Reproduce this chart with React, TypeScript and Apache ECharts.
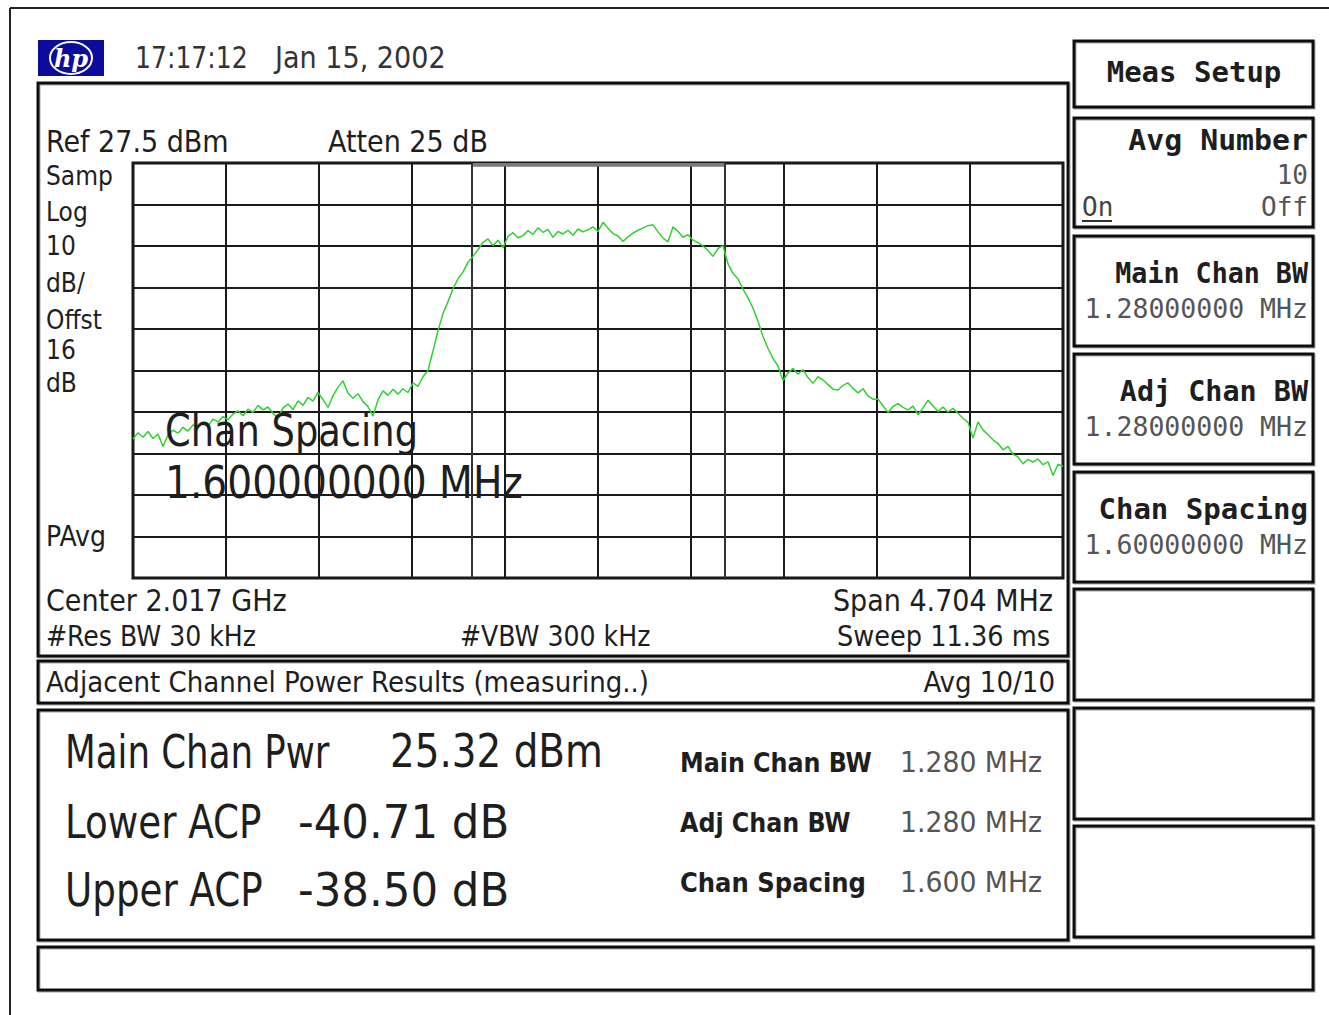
import React, { useEffect, useRef } from "react";
import * as echarts from "echarts";

// ---- instrument settings ----
const REF_LEVEL_DBM = 27.5;
const DB_PER_DIV = 10;
const DIVISIONS = 10;
const SPAN_KHZ = 4704;
const MAIN_CHAN_BW_KHZ = 1280;

// ---- trace: 187 evenly spaced sweep points across the span, dBm ----
const TRACE_DBM = [
  -39.0, -37.5, -38.6, -37.2, -38.9, -37.8, -40.8, -38.0, -36.9, -37.6,
  -36.2, -37.1, -35.6, -36.4, -35.0, -35.9, -34.2, -34.9, -33.6, -34.4,
  -33.0, -32.2, -33.4, -31.8, -32.6, -30.9, -32.0, -31.3, -32.8, -34.1,
  -31.5, -30.6, -31.9, -29.8, -30.9, -29.0, -29.9, -27.8, -29.5, -31.4,
  -28.6, -26.5, -25.0, -28.0, -29.2, -28.1, -30.0, -31.2, -33.5, -29.6,
  -27.4, -28.5, -27.0, -28.2, -26.9, -27.8, -25.5, -26.3, -24.0, -22.5,
  -17.8, -12.9, -8.8, -5.9, -2.8, -0.4, 1.2, 3.6, 5.0, 6.6,
  8.4, 9.2, 7.6, 8.9, 7.1, 9.8, 10.7, 9.5, 10.0, 11.2,
  10.3, 11.9, 10.8, 11.5, 9.6, 11.0, 10.4, 11.3, 10.1, 11.6,
  10.9, 11.4, 12.1, 11.0, 13.2, 11.8, 10.5, 9.9, 8.6, 9.7,
  10.6, 11.3, 11.8, 12.4, 12.6, 10.9, 9.4, 8.5, 12.1, 11.0,
  9.6, 10.2, 8.9, 8.3, 7.5, 6.4, 5.0, 6.9, 7.6, 3.2,
  0.9, -0.4, -2.9, -5.0, -7.5, -10.6, -14.3, -17.2, -19.6, -21.4,
  -24.9, -23.1, -22.0, -23.4, -22.3, -24.2, -25.6, -24.0, -24.8, -25.9,
  -27.0, -27.2, -26.1, -25.5, -26.8, -27.9, -26.9, -28.6, -29.4, -29.4,
  -31.0, -32.6, -31.2, -30.5, -31.4, -32.0, -31.1, -33.1, -31.5, -29.7,
  -31.0, -32.4, -31.3, -32.5, -31.6, -32.8, -34.0, -35.0, -38.8, -34.9,
  -36.8, -38.0, -39.2, -40.1, -41.6, -40.8, -42.7, -43.3, -45.0, -43.9,
  -44.6, -43.8, -45.2, -44.5, -47.8, -45.1, -45.6,
];

// ---- screen texts ----
const TIME_TEXT = "17:17:12";
const DATE_TEXT = "Jan 15, 2002";
const LEFT_LABELS = ["Samp", "Log", "10", "dB/", "Offst", "16", "dB"];
const RESULT_LABELS = ["Main Chan Pwr", "Lower ACP", "Upper ACP"];
const RESULT_VALUES = ["25.32 dBm", "-40.71 dB", "-38.50 dB"];
const SETUP_LABELS = ["Main Chan BW", "Adj Chan BW", "Chan Spacing"];
const SETUP_VALUES = ["1.280 MHz", "1.280 MHz", "1.600 MHz"];
const SOFTKEY_LABELS = ["Main Chan BW", "Adj Chan BW", "Chan Spacing"];
const SOFTKEY_VALUES = ["1.28000000 MHz", "1.28000000 MHz", "1.60000000 MHz"];

const NARROW = '"Liberation Sans Narrow", "DejaVu Sans Condensed", "Open Sans", "Liberation Sans", sans-serif';
const MONO = '"DejaVu Sans Mono", "Liberation Mono", monospace';
const INK = "#1e1e1e";

function txt(text: string, x: number, y: number, size: number, opts: any = {}) {
  return {
    type: "text",
    x,
    y,
    z: 100,
    silent: true,
    scaleX: opts.scaleX ?? 1,
    style: {
      text,
      font: `${opts.weight || "normal"} ${size}px ${opts.family || NARROW}`,
      fill: opts.fill || INK,
      textAlign: opts.align || "left",
      textVerticalAlign: "middle",
      align: opts.align || "left",
      verticalAlign: "middle",
    },
  };
}

function box(x: number, y: number, w: number, h: number, lw = 3) {
  return {
    type: "rect",
    z: 90,
    silent: true,
    shape: { x, y, width: w, height: h },
    style: { fill: "none", stroke: "#111", lineWidth: lw, shadowColor: "rgba(0,0,0,0.35)", shadowOffsetX: 1, shadowOffsetY: 1 },
  };
}

export default function App() {
  const ref = useRef<HTMLDivElement>(null);

  useEffect(() => {
    if (!ref.current) return;
    const chart = echarts.init(ref.current, undefined, { renderer: "svg" });
    const n = TRACE_DBM.length;
    const half = SPAN_KHZ / 2;
    const data = TRACE_DBM.map((v, i) => [-half + (i * SPAN_KHZ) / (n - 1), v - REF_LEVEL_DBM]);
    const chHalf = MAIN_CHAN_BW_KHZ / 2;

    const graphics: any[] = [];
    // outer frame
    graphics.push({ type: "line", z: 90, shape: { x1: 10, y1: 8, x2: 1329, y2: 8 }, style: { stroke: "#222", lineWidth: 2 } });
    graphics.push({ type: "line", z: 90, shape: { x1: 10, y1: 8, x2: 10, y2: 1015 }, style: { stroke: "#222", lineWidth: 2 } });
    // hp logo
    graphics.push({ type: "rect", z: 90, shape: { x: 38, y: 40, width: 66, height: 36 }, style: { fill: "#0b0b9c" } });
    graphics.push({ type: "ellipse", z: 95, shape: { cx: 71, cy: 58, rx: 21, ry: 16 }, style: { fill: "none", stroke: "#fff", lineWidth: 2 } });
    graphics.push(txt("hp", 71, 58, 24, { align: "center", fill: "#fff", weight: "italic bold", family: '"DejaVu Serif", serif' }));
    // date/time
    graphics.push(txt(TIME_TEXT, 135, 57, 31, { scaleX: 0.9, fill: "#333" }));
    graphics.push(txt(DATE_TEXT, 275, 57, 31, { scaleX: 0.97, fill: "#333" }));
    // main display frame
    graphics.push(box(38, 83, 1030, 573));
    graphics.push(txt("Ref 27.5 dBm", 46, 141, 30));
    graphics.push(txt("Atten 25 dB", 328, 141, 30));
    const ly = [176, 212, 246, 283, 320, 350, 383];
    LEFT_LABELS.forEach((l, i) => graphics.push(txt(l, 46, ly[i], 26)));
    graphics.push(txt("PAvg", 46, 536, 28));
    graphics.push(txt("Center 2.017 GHz", 46, 600, 30));
    graphics.push(txt("Span 4.704 MHz", 1053, 600, 30, { align: "right" }));
    graphics.push(txt("#Res BW 30 kHz", 46, 636, 28));
    graphics.push(txt("#VBW 300 kHz", 460, 636, 28));
    graphics.push(txt("Sweep 11.36 ms", 1050, 636, 28.5, { align: "right" }));
    // overlay in plot
    graphics.push(txt("Chan Spacing", 165, 431, 44, { scaleX: 0.93 }));
    graphics.push(txt("1.600000000 MHz", 165, 482, 44, { scaleX: 0.99 }));
    // results header
    graphics.push(box(38, 661, 1030, 42));
    graphics.push(txt("Adjacent Channel Power Results (measuring..)", 46, 682, 29));
    graphics.push(txt("Avg 10/10", 1055, 682, 29, { align: "right" }));
    // results box
    graphics.push(box(38, 710, 1030, 230));
    const ry = [752, 822, 890];
    RESULT_LABELS.forEach((label, i) => {
      graphics.push(txt(label, 65, ry[i], 46, { scaleX: i === 0 ? 0.86 : 0.9 }));
      graphics.push(txt(RESULT_VALUES[i], i === 0 ? 390 : 298, ry[i], 46, { scaleX: i === 0 ? 0.94 : 1.05 }));
    });
    const sy = [762, 822, 882];
    SETUP_LABELS.forEach((label, i) => {
      graphics.push(txt(label, 680, sy[i], 27, { weight: "bold", scaleX: i === 2 ? 1.0 : 0.98 }));
      graphics.push(txt(SETUP_VALUES[i], 900, sy[i], 28, { fill: "#555", scaleX: 1.06 }));
    });
    // bottom status box
    graphics.push(box(38, 947, 1275, 43));
    // softkeys
    graphics.push(box(1074, 41, 239, 66));
    graphics.push(txt("Meas Setup", 1194, 72, 29, { align: "center", weight: "bold", family: MONO }));
    graphics.push(box(1074, 118, 239, 109));
    graphics.push(txt("Avg Number", 1308, 140, 29, { align: "right", weight: "bold", family: MONO, scaleX: 1.03 }));
    graphics.push(txt("10", 1308, 175, 26, { align: "right", fill: "#555", family: MONO }));
    graphics.push(txt("On", 1082, 207, 26, { fill: "#444", family: MONO }));
    graphics.push({ type: "line", z: 95, shape: { x1: 1082, y1: 221, x2: 1112, y2: 221 }, style: { stroke: "#333", lineWidth: 2 } });
    graphics.push(txt("Off", 1308, 207, 26, { align: "right", fill: "#555", family: MONO }));
    const ky = [236, 354, 472];
    const kscale = [0.92, 0.98, 1.0];
    SOFTKEY_LABELS.forEach((label, i) => {
      graphics.push(box(1074, ky[i], 239, 110));
      graphics.push(txt(label, 1308, ky[i] + 37, 29, { align: "right", weight: "bold", family: MONO, scaleX: kscale[i] }));
      graphics.push(txt(SOFTKEY_VALUES[i], 1308, ky[i] + 73, 26, { align: "right", fill: "#555", family: MONO, scaleX: 1.02 }));
    });
    [589, 708, 826].forEach((y) => graphics.push(box(1074, y, 239, 111)));

    chart.setOption({
      animation: false,
      backgroundColor: "#ffffff",
      grid: { left: 133, top: 163, width: 930, height: 415, show: true, borderColor: "#111", borderWidth: 3, backgroundColor: "transparent" },
      xAxis: {
        type: "value",
        min: -half,
        max: half,
        interval: SPAN_KHZ / DIVISIONS,
        axisLine: { show: false },
        axisTick: { show: false },
        axisLabel: { show: false },
        splitLine: { show: true, lineStyle: { color: "#1a1a1a", width: 2 } },
      },
      yAxis: {
        type: "value",
        min: -DB_PER_DIV * DIVISIONS,
        max: 0,
        interval: DB_PER_DIV,
        axisLine: { show: false },
        axisTick: { show: false },
        axisLabel: { show: false },
        splitLine: { show: true, lineStyle: { color: "#1a1a1a", width: 2 } },
      },
      series: [
        {
          type: "line",
          data,
          showSymbol: false,
          symbol: "none",
          lineStyle: { color: "#2fd22f", width: 1.5 },
          z: 5,
          markLine: {
            silent: true,
            symbol: "none",
            label: { show: false },
            lineStyle: { color: "#333", width: 2, type: "solid" },
            data: [{ xAxis: -chHalf }, { xAxis: chHalf }],
          },
          markArea: {
            silent: true,
            itemStyle: { color: "#7a7a7a" },
            data: [[{ coord: [-chHalf, 0] }, { coord: [chHalf, -0.9] }]],
          },
        },
      ],
      graphic: { elements: graphics },
    });
    return () => chart.dispose();
  }, []);

  return <div ref={ref} style={{ position: "fixed", left: 0, top: 0, width: 1329, height: 1015 }} />;
}
